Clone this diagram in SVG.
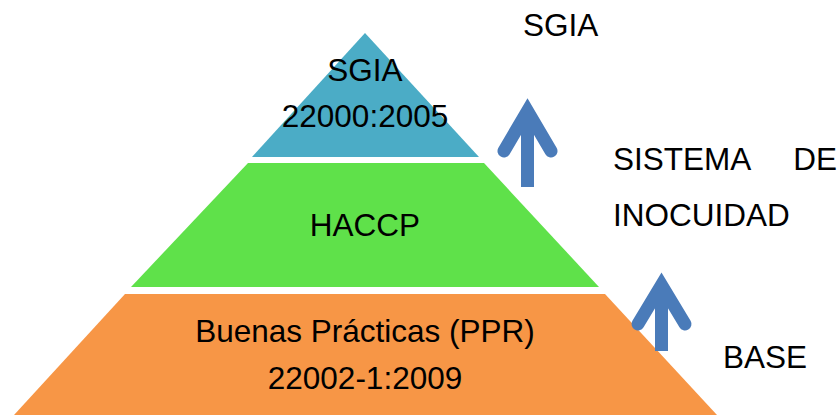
<svg xmlns="http://www.w3.org/2000/svg" width="839" height="415" viewBox="0 0 839 415">
<style>
text{font-family:"Liberation Sans",Arial,sans-serif;font-size:31.5px;fill:#000}
.c{text-anchor:middle}
.arr{fill:none;stroke:#4A7BB9;stroke-width:13}
</style>
<rect width="839" height="415" fill="#fff"/>
<g id="top">
<polygon points="365,33 479,157 252,157" fill="#4BACC6"/>
<text class="c" x="365" y="81">SGIA</text>
<text class="c" x="365" y="127">22000:2005</text>
</g>
<g id="middle">
<polygon points="248,163 484,163 599,287 131,287" fill="#5FE14A"/>
<text class="c" x="365" y="236">HACCP</text>
</g>
<g id="base">
<polygon points="125,294 605,294 717,415 14,415" fill="#F79646"/>
<text class="c" x="365" y="342">Buenas Prácticas (PPR)</text>
<text class="c" x="365" y="389">22002-1:2009</text>
</g>
<g id="labels">
<text x="523" y="36">SGIA</text>
<text x="613" y="170" word-spacing="35">SISTEMA DE</text>
<text x="613" y="226">INOCUIDAD</text>
<text x="723" y="368">BASE</text>
</g>
<g id="connectors">
<g id="arrow1">
<polyline class="arr" points="504,151 527.5,111 551,151" stroke-linecap="round" stroke-linejoin="miter"/>
<line class="arr" x1="527.5" y1="111" x2="527.5" y2="187"/>
</g>
<g id="arrow2">
<polyline class="arr" points="638,324 661.5,285 685,324" stroke-linecap="round" stroke-linejoin="miter"/>
<line class="arr" x1="661.5" y1="285" x2="661.5" y2="351"/>
</g>
</g>
</svg>
